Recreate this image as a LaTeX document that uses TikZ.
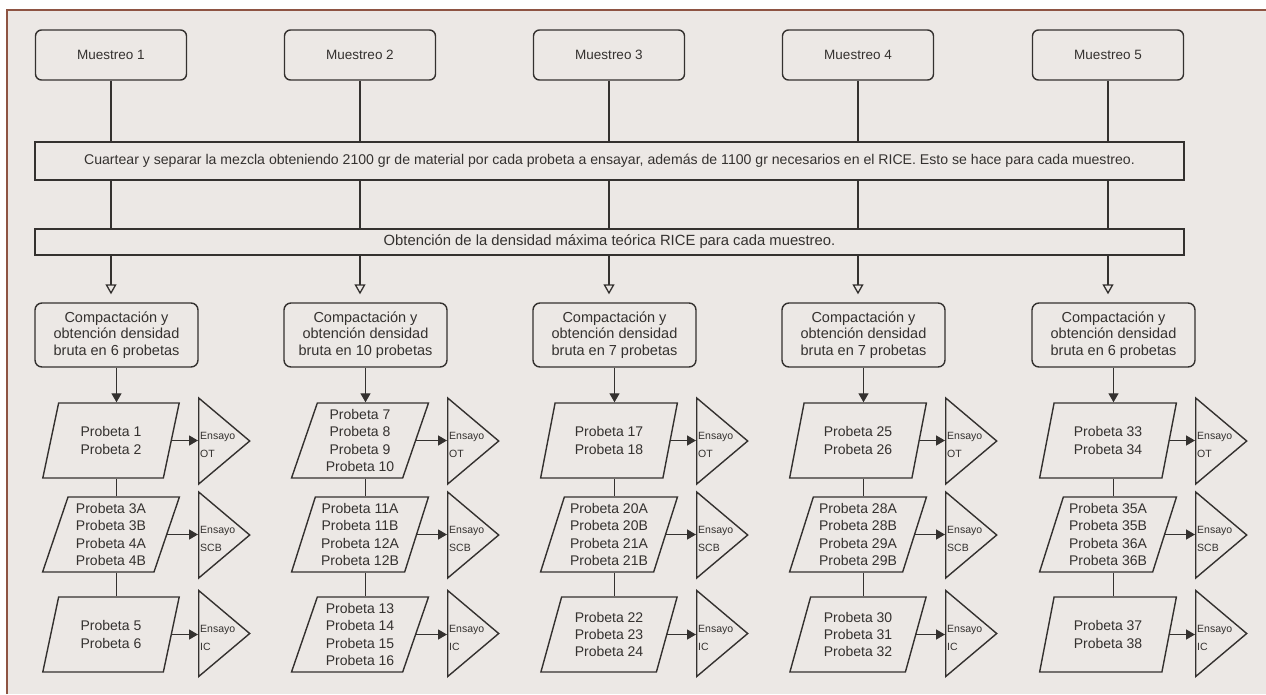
\documentclass[tikz,border=0pt]{standalone}
\usepackage{fontspec}
\setmainfont{Liberation Sans}
\usetikzlibrary{shapes.geometric,arrows.meta}
\definecolor{bg}{HTML}{ECE8E5}
\definecolor{ln}{HTML}{34312F}
\definecolor{framec}{HTML}{8E5443}
\begin{document}
\begin{tikzpicture}[x=1pt,y=-1pt,
  every node/.style={text=ln},
  line/.style={draw=ln, line width=1.4pt},
  mbox/.style={line, rounded corners=6pt, minimum width=151pt, minimum height=50pt, inner sep=0pt, font=\fontsize{13.5}{16}\selectfont},
  band/.style={line, minimum width=1149pt, inner sep=0pt},
  cbox/.style={line, rounded corners=7pt, minimum width=163pt, minimum height=64pt, inner sep=0pt, align=center, font=\fontsize{14.5}{16.7}\selectfont},
  pbox/.style={line, trapezium, trapezium left angle=71.57, trapezium right angle=108.43, trapezium stretches=true, minimum width=137pt, minimum height=75pt, inner sep=0pt, align=center, font=\fontsize{14}{17.3}\selectfont},
  tri/.style={line, isosceles triangle, isosceles triangle stretches=true, minimum width=86pt, minimum height=51pt, inner sep=0pt},
  tlabel/.style={anchor=west, inner sep=0pt, align=left, font=\fontsize{10.5}{18}\selectfont},
  conn/.style={draw=ln, line width=1.4pt},
  openarr/.style={conn, -{Triangle[open, length=10pt, width=11pt, line width=1.3pt]}},
  fillarr/.style={conn, -{Triangle[length=9pt, width=10pt]}},
]
\useasboundingbox (0,0) rectangle (1266,694);
\fill[white] (0,0) rectangle (1266,694);
\fill[bg] (7,10) rectangle (1266,694);
\draw[framec, line width=1.5pt] (7,694) -- (7,10) -- (1266,10);

\node[band, minimum height=38pt, font=\fontsize{14.1}{16}\selectfont] (b1) at (609.5,161) {Cuartear y separar la mezcla obteniendo 2100 gr de material por cada probeta a ensayar, además de 1100 gr necesarios en el RICE. Esto se hace para cada muestreo.};
\node[band, minimum height=26pt, font=\fontsize{14.8}{16}\selectfont] (b2) at (609.5,242) {Obtención de la densidad máxima teórica RICE para cada muestreo.};

\foreach \c/\n/\pa/\pb/\pc [count=\i] in {
 111/6/{Probeta 1\\Probeta 2}/{Probeta 3A\\Probeta 3B\\Probeta 4A\\Probeta 4B}/{Probeta 5\\Probeta 6},
 360/10/{Probeta 7\\Probeta 8\\Probeta 9\\Probeta 10}/{Probeta 11A\\Probeta 11B\\Probeta 12A\\Probeta 12B}/{Probeta 13\\Probeta 14\\Probeta 15\\Probeta 16},
 609/7/{Probeta 17\\Probeta 18}/{Probeta 20A\\Probeta 20B\\Probeta 21A\\Probeta 21B}/{Probeta 22\\Probeta 23\\Probeta 24},
 858/7/{Probeta 25\\Probeta 26}/{Probeta 28A\\Probeta 28B\\Probeta 29A\\Probeta 29B}/{Probeta 30\\Probeta 31\\Probeta 32},
 1108/6/{Probeta 33\\Probeta 34}/{Probeta 35A\\Probeta 35B\\Probeta 36A\\Probeta 36B}/{Probeta 37\\Probeta 38}}
{
 \node[mbox] (m\i) at (\c,55) {Muestreo \i};
 \node[cbox] (cb\i) at (\c+5.5,335) {Compactación y\\obtención densidad\\bruta en \n\ probetas};
 \node[pbox] (pa\i) at (\c,440.5) {\pa};
 \node[pbox] (pb\i) at (\c,534.5) {\pb};
 \node[pbox] (pc\i) at (\c,634.5) {\pc};
 \node[tri, anchor=west] (ta\i) at (\c+87,441) {};
 \node[tri, anchor=west] (tb\i) at (\c+87,535) {};
 \node[tri, anchor=west] (tc\i) at (\c+87,633.5) {};
 \node[tlabel] (la\i) at ([shift={(2,4)}]ta\i.west) {Ensayo\\OT};
 \node[tlabel] (lb\i) at ([shift={(2,4)}]tb\i.west) {Ensayo\\SCB};
 \node[tlabel] (lc\i) at ([shift={(2,4)}]tc\i.west) {Ensayo\\IC};
 \draw[conn] (m\i.south) -- (m\i.south |- b1.north);
 \draw[conn] (m\i.south |- b1.south) -- (m\i.south |- b2.north);
 \draw[openarr, shorten >=8pt] (m\i.south |- b2.south) -- (m\i.south |- cb\i.north);
 \draw[fillarr] (cb\i.south) -- (cb\i.south |- pa\i.north);
 \draw[conn] (cb\i.south |- pa\i.south) -- (cb\i.south |- pb\i.north);
 \draw[conn] (cb\i.south |- pb\i.south) -- (cb\i.south |- pc\i.north);
 \draw[fillarr] (pa\i.east) -- (pa\i.east -| ta\i.west);
 \draw[fillarr] (pb\i.east) -- (pb\i.east -| tb\i.west);
 \draw[fillarr] (pc\i.east) -- (pc\i.east -| tc\i.west);
}
\end{tikzpicture}
\end{document}
